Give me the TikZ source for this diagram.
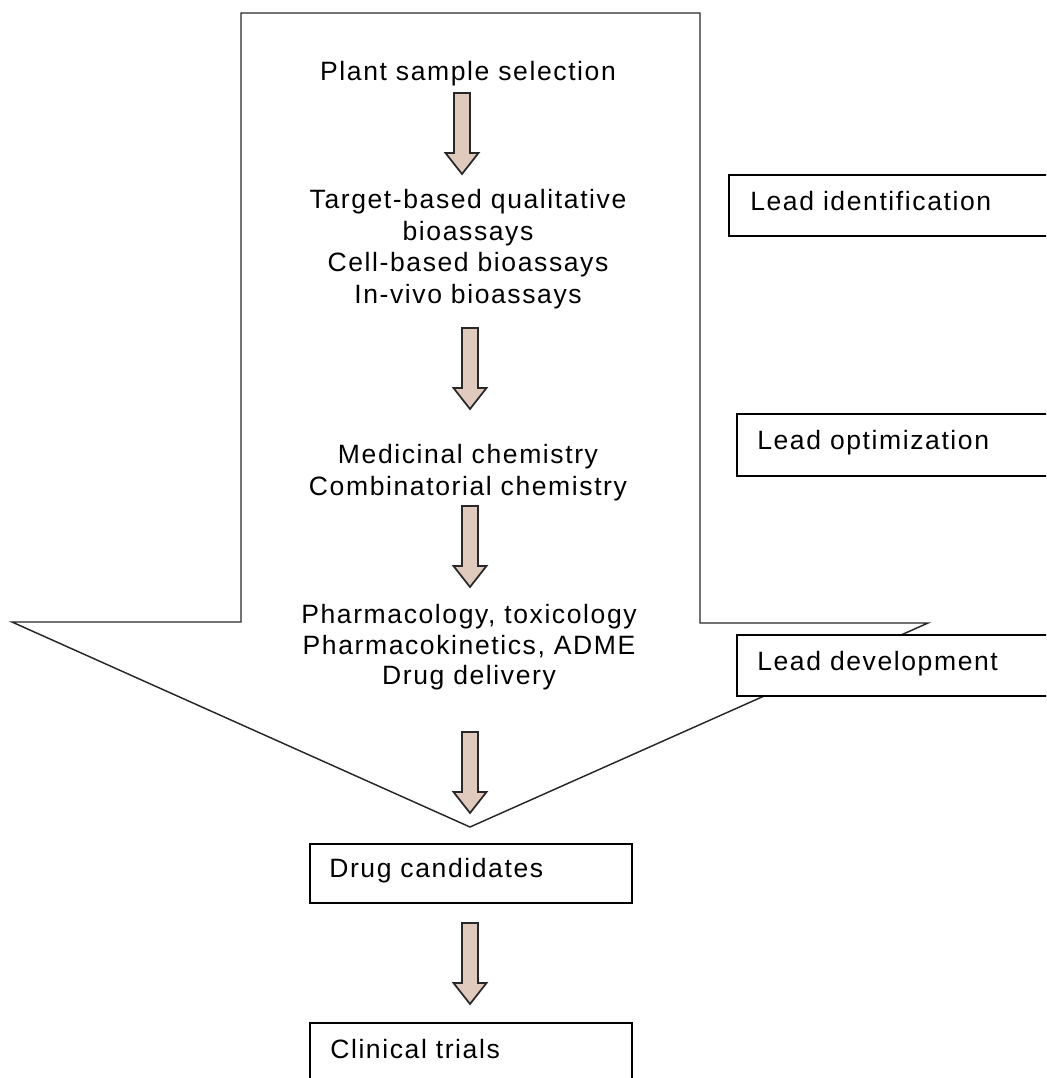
\documentclass[tikz,border=0pt]{standalone}
\usepackage{fontspec}
\setmainfont{Liberation Sans}[LetterSpace=6.0]
\definecolor{arrowfill}{RGB}{224,201,189}
\definecolor{linegray}{RGB}{40,40,40}
\tikzset{
  outline/.style={draw=linegray, line width=1.1pt, line join=miter},
  labelbox/.style={draw=black, fill=white, line width=1.2pt},
  txt/.style={inner sep=0pt, font=\fontsize{19.9pt}{24pt}\selectfont, text=black},
  barrow/.pic={\draw[draw=linegray, line width=1.3pt, fill=arrowfill, line join=miter]
     (-8,0) -- (8,0) -- (8,60) -- (16.5,60) -- (0,81) -- (-16.5,60) -- (-8,60) -- cycle;}
}
\begin{document}
\begin{tikzpicture}[x=0.75pt, y=-0.75pt]
\useasboundingbox (0,0) rectangle (1046,1078);
\clip (0,0) rectangle (1046,1078);
\fill[white] (0,0) rectangle (1046,1078);

% big arrow outline
\draw[outline] (241,13) -- (700,13) -- (700,623) -- (928,623) -- (470,827) -- (12,622) -- (241,622) -- cycle;

% centre texts
\node[txt, anchor=base] (p1) at (468,80) {Plant sample selection};
\node[txt, anchor=base] (t1) at (468,208) {Target-based qualitative};
\node[txt, anchor=base] (t2) at (468,240) {bioassays};
\node[txt, anchor=base] (t3) at (468,271) {Cell-based bioassays};
\node[txt, anchor=base] (t4) at (468,303) {In-vivo bioassays};
\node[txt, anchor=base] (m1) at (468,463) {Medicinal chemistry};
\node[txt, anchor=base] (m2) at (468,495) {Combinatorial chemistry};
\node[txt, anchor=base] (d1) at (469,623) {Pharmacology, toxicology};
\node[txt, anchor=base] (d2) at (469,654) {Pharmacokinetics, ADME};
\node[txt, anchor=base] (d3) at (469,684) {Drug delivery};

% block arrows
\pic (a1) at (462,93) {barrow};
\pic (a2) at (470,328) {barrow};
\pic (a3) at (470,506) {barrow};
\pic (a4) at (470,732) {barrow};
\pic (a5) at (470,923) {barrow};

% side label boxes
\draw[labelbox] (729,175) rectangle (1070,236);
\node[txt, anchor=base west] (li) at (750,210) {Lead identification};
\draw[labelbox] (737,414) rectangle (1070,476);
\node[txt, anchor=base west] (lo) at (757,449) {Lead optimization};
\draw[labelbox] (737,635) rectangle (1070,696);
\node[txt, anchor=base west] (ld) at (757,670) {Lead development};

% bottom boxes
\draw[labelbox] (310,844) rectangle (632,903);
\node[txt, anchor=base west] (dc) at (329,877) {Drug candidates};
\draw[labelbox] (310,1023) rectangle (632,1100);
\node[txt, anchor=base west] (ct) at (330,1058) {Clinical trials};
\end{tikzpicture}
\end{document}
